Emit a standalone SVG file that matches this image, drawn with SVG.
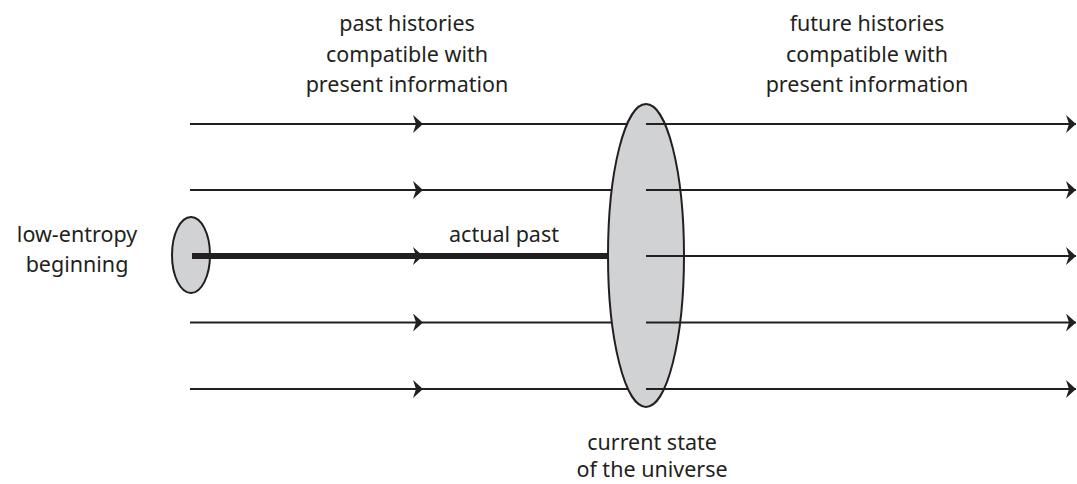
<svg xmlns="http://www.w3.org/2000/svg" width="1077" height="484" viewBox="0 0 1077 484">
<defs>
<style>
.t{font-family:"Noto Sans","Open Sans",sans-serif;font-size:21.5px;fill:#231f20;text-anchor:middle}
.ln{stroke:#231f20;stroke-width:2;fill:none}
.thick{stroke:#231f20;stroke-width:6;fill:none}
.ell{fill:#d1d2d4;stroke:#231f20;stroke-width:2}
</style>
<marker id="ah" markerUnits="userSpaceOnUse" markerWidth="12" markerHeight="20" refX="10" refY="9" orient="auto" viewBox="0 0 12 20">
<path d="M0,0 L10,9 L0,18 L3,9 Z" fill="#231f20"/>
</marker>
</defs>
<rect width="1077" height="484" fill="#ffffff"/>
<g id="labels">
<text class="t" x="407" y="31">past histories</text>
<text class="t" x="407" y="62">compatible with</text>
<text class="t" x="407" y="92">present information</text>
<text class="t" x="867" y="31">future histories</text>
<text class="t" x="867" y="62">compatible with</text>
<text class="t" x="867" y="92">present information</text>
<text class="t" x="77" y="242">low-entropy</text>
<text class="t" x="77" y="272">beginning</text>
<text class="t" x="652" y="450">current state</text>
<text class="t" x="652" y="477">of the universe</text>
</g>
<g id="edge-actual-past-label">
<text class="t" x="504" y="242">actual past</text>
</g>
<g id="connectors-past">
<path class="ln" d="M190,124 H423 H640" marker-mid="url(#ah)"/>
<path class="ln" d="M190,190 H423 H640" marker-mid="url(#ah)"/>
<path class="ln" d="M190,322.5 H423 H640" marker-mid="url(#ah)"/>
<path class="ln" d="M190,389 H423 H640" marker-mid="url(#ah)"/>
</g>
<g id="node-beginning">
<ellipse class="ell" cx="191" cy="255" rx="19" ry="38"/>
</g>
<g id="connector-actual-past">
<path class="thick" d="M192,256 H423 H630" marker-mid="url(#ah)"/>
</g>
<g id="node-current-state">
<ellipse class="ell" cx="646" cy="255.5" rx="38" ry="151.5"/>
</g>
<g id="connectors-future">
<path class="ln" d="M646,124 H1076" marker-end="url(#ah)"/>
<path class="ln" d="M646,190 H1076" marker-end="url(#ah)"/>
<path class="ln" d="M646,256 H1076" marker-end="url(#ah)"/>
<path class="ln" d="M646,322.5 H1076" marker-end="url(#ah)"/>
<path class="ln" d="M646,389 H1076" marker-end="url(#ah)"/>
</g>
</svg>
